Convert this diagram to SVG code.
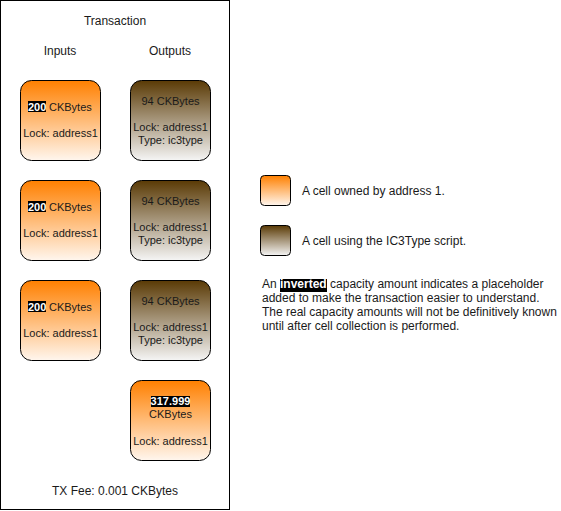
<svg xmlns="http://www.w3.org/2000/svg" width="561" height="511" viewBox="0 0 561 511">
<defs>
<linearGradient id="gOrange" x1="0" y1="0" x2="0" y2="1">
<stop offset="0" stop-color="#ff8000"/>
<stop offset="1" stop-color="#fff6ee"/>
</linearGradient>
<linearGradient id="gBrown" x1="0" y1="0" x2="0" y2="1">
<stop offset="0" stop-color="#5a3a05"/>
<stop offset="1" stop-color="#f5f5f5"/>
</linearGradient>
<style>
text{font-family:"Liberation Sans",Arial,sans-serif;font-size:12px;fill:#1a1a1a}
.s{font-size:11px}
.c{text-anchor:middle}
.cell{stroke:#000;stroke-width:1}
.o{fill:url(#gOrange)}
.b{fill:url(#gBrown)}
.hl{fill:#000}
.hw{fill:#fff;font-weight:bold}
</style>
</defs>
<rect x="0.5" y="0.5" width="229" height="509" fill="#fff" stroke="#000"/>
<g id="labels">
<text class="c" x="115" y="25">Transaction</text>
<text class="c" x="60" y="55">Inputs</text>
<text class="c" x="170" y="55">Outputs</text>
<text class="c" x="115" y="495">TX Fee: 0.001 CKBytes</text>
</g>
<g id="in1">
<rect class="cell o" x="20.5" y="80.5" width="80" height="80" rx="11"/>
<rect class="hl" x="28" y="101" width="18" height="11"/>
<text x="28" y="111" class="s hw">200</text><text x="49" y="111" class="s">CKBytes</text>
<text class="c s" x="60.5" y="137">Lock: address1</text>
</g>
<g id="in2">
<rect class="cell o" x="20.5" y="180.5" width="80" height="80" rx="11"/>
<rect class="hl" x="28" y="201" width="18" height="11"/>
<text x="28" y="211" class="s hw">200</text><text x="49" y="211" class="s">CKBytes</text>
<text class="c s" x="60.5" y="237">Lock: address1</text>
</g>
<g id="in3">
<rect class="cell o" x="20.5" y="280.5" width="80" height="80" rx="11"/>
<rect class="hl" x="28" y="301" width="18" height="11"/>
<text x="28" y="311" class="s hw">200</text><text x="49" y="311" class="s">CKBytes</text>
<text class="c s" x="60.5" y="337">Lock: address1</text>
</g>
<g id="out1">
<rect class="cell b" x="130.5" y="80.5" width="80" height="80" rx="11"/>
<text class="c s" x="170.5" y="105">94 CKBytes</text>
<text class="c s" x="170.5" y="131">Lock: address1</text>
<text class="c s" x="170.5" y="144">Type: ic3type</text>
</g>
<g id="out2">
<rect class="cell b" x="130.5" y="180.5" width="80" height="80" rx="11"/>
<text class="c s" x="170.5" y="205">94 CKBytes</text>
<text class="c s" x="170.5" y="231">Lock: address1</text>
<text class="c s" x="170.5" y="244">Type: ic3type</text>
</g>
<g id="out3">
<rect class="cell b" x="130.5" y="280.5" width="80" height="80" rx="11"/>
<text class="c s" x="170.5" y="305">94 CKBytes</text>
<text class="c s" x="170.5" y="331">Lock: address1</text>
<text class="c s" x="170.5" y="344">Type: ic3type</text>
</g>
<g id="out4">
<rect class="cell o" x="130.5" y="380.5" width="80" height="80" rx="11"/>
<rect class="hl" x="151" y="396" width="39" height="11"/>
<text class="c s hw" x="170.5" y="405">317.999</text>
<text class="c s" x="170.5" y="418">CKBytes</text>
<text class="c s" x="170.5" y="445">Lock: address1</text>
</g>
<g id="legend1">
<rect class="cell o" x="260.5" y="175.5" width="30" height="30" rx="4"/>
<text x="302" y="195">A cell owned by address 1.</text>
</g>
<g id="legend2">
<rect class="cell b" x="260.5" y="225.5" width="30" height="30" rx="4"/>
<text x="302" y="245">A cell using the IC3Type script.</text>
</g>
<g id="note">
<rect class="hl" x="280" y="279" width="47" height="13"/>
<text x="262" y="288">An <tspan class="hw">inverted</tspan> capacity amount indicates a placeholder</text>
<text x="262" y="302">added to make the transaction easier to understand.</text>
<text x="262" y="316">The real capacity amounts will not be definitively known</text>
<text x="262" y="330">until after cell collection is performed.</text>
</g>
</svg>
